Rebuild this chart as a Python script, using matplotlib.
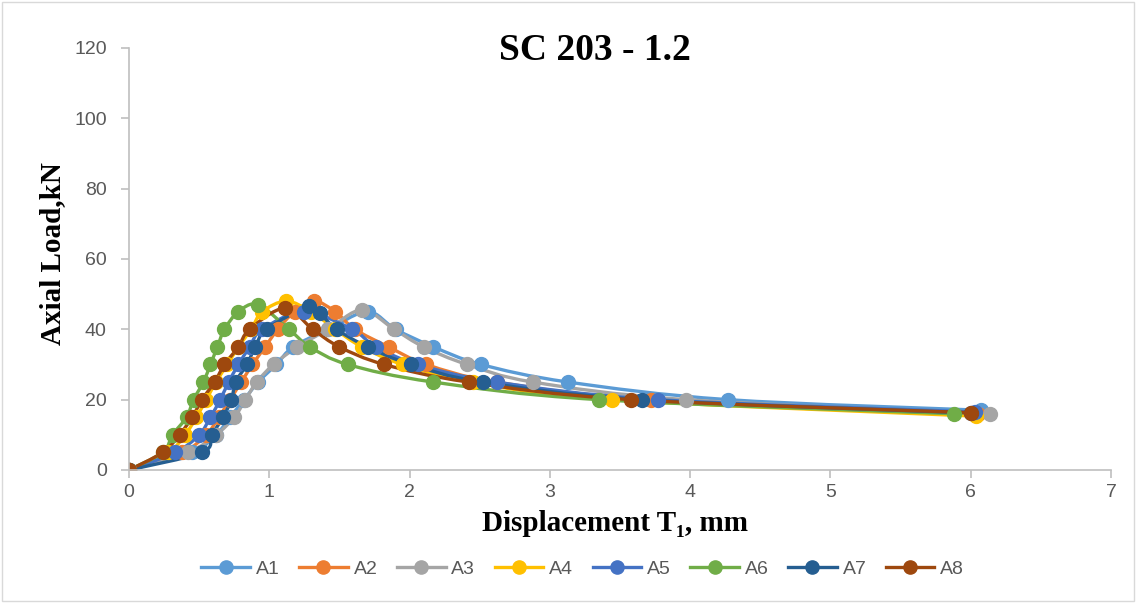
import matplotlib
matplotlib.use("Agg")
import matplotlib.pyplot as plt
import numpy as np
from matplotlib.path import Path
from matplotlib.patches import PathPatch, Rectangle
from matplotlib.lines import Line2D

# displacement (mm) and axial load (kN)
a1_x = [0, 0.45, 0.62, 0.72, 0.82, 0.92, 1.05, 1.17, 1.42, 1.70, 1.90, 2.17, 2.51, 3.13, 4.27, 6.07]
a1_y = [0, 5, 10, 15, 20, 25, 30, 35, 40, 45, 40, 35, 30, 25, 20, 17]
a2_x = [0, 0.38, 0.55, 0.64, 0.72, 0.80, 0.88, 0.97, 1.06, 1.18, 1.32, 1.47, 1.61, 1.85, 2.12, 2.62, 3.72, 6.05]
a2_y = [0, 5, 10, 15, 20, 25, 30, 35, 40, 45, 48, 45, 40, 35, 30, 25, 20, 16]
a3_x = [0, 0.42, 0.62, 0.75, 0.83, 0.91, 1.03, 1.20, 1.42, 1.66, 1.89, 2.10, 2.41, 2.88, 3.97, 6.14]
a3_y = [0, 5, 10, 15, 20, 25, 30, 35, 40, 45.5, 40, 35, 30, 25, 20, 16]
a4_x = [0, 0.28, 0.40, 0.48, 0.55, 0.62, 0.70, 0.78, 0.87, 0.95, 1.12, 1.30, 1.47, 1.66, 1.95, 2.45, 3.44, 6.04]
a4_y = [0, 5, 10, 15, 20, 25, 30, 35, 40, 45, 48, 45, 40, 35, 30, 25, 20, 15.3]
a5_x = [0, 0.33, 0.50, 0.58, 0.65, 0.71, 0.78, 0.86, 0.95, 1.25, 1.59, 1.76, 2.06, 2.62, 3.77, 6.03]
a5_y = [0, 5, 10, 15, 20, 25, 30, 35, 40, 45, 40, 35, 30, 25, 20, 16.5]
a6_x = [0, 0.24, 0.31, 0.41, 0.46, 0.53, 0.58, 0.63, 0.68, 0.78, 0.92, 1.14, 1.29, 1.56, 2.17, 3.35, 5.88]
a6_y = [0, 5, 10, 15, 20, 25, 30, 35, 40, 45, 47, 40, 35, 30, 25, 20, 16]
a7_x = [0, 0.52, 0.59, 0.67, 0.73, 0.76, 0.84, 0.90, 0.98, 1.28, 1.36, 1.48, 1.70, 2.01, 2.52, 3.66, 6.00]
a7_y = [0, 5, 10, 15, 20, 25, 30, 35, 40, 46.5, 44.5, 40, 35, 30, 25, 20, 16.2]
a8_x = [0, 0.24, 0.36, 0.45, 0.52, 0.61, 0.68, 0.78, 0.86, 1.11, 1.31, 1.50, 1.82, 2.42, 3.58, 6.00]
a8_y = [0, 5, 10, 15, 20, 25, 30, 35, 40, 46, 40, 35, 30, 25, 20, 16.3]

names = ["A1", "A2", "A3", "A4", "A5", "A6", "A7", "A8"]
xs = [a1_x, a2_x, a3_x, a4_x, a5_x, a6_x, a7_x, a8_x]
ys = [a1_y, a2_y, a3_y, a4_y, a5_y, a6_y, a7_y, a8_y]
colors = ["#5B9BD5", "#ED7D31", "#A5A5A5", "#FFC000",
          "#4472C4", "#70AD47", "#255E91", "#9E480E"]


def smooth_path(x, y):
    # Excel-style smoothed line: Catmull-Rom segments as cubic Beziers
    p = np.column_stack([x, y]).astype(float)
    n = len(p)
    verts = [p[0]]
    codes = [Path.MOVETO]
    for i in range(n - 1):
        p0 = p[i - 1] if i > 0 else p[i]
        p3 = p[i + 2] if i + 2 < n else p[i + 1]
        c1 = p[i] + (p[i + 1] - p0) / 6.0
        c2 = p[i + 1] - (p3 - p[i]) / 6.0
        verts += [c1, c2, p[i + 1]]
        codes += [Path.CURVE4] * 3
    return Path(verts, codes)


fig = plt.figure(figsize=(11.36, 6.03), dpi=100)
ax = fig.add_axes([0.1136, 0.2206, 0.8644, 0.6998])

handles = []
for name, x, y, c in zip(names, xs, ys, colors):
    ax.add_patch(PathPatch(smooth_path(x, y), facecolor="none", edgecolor=c,
                           linewidth=2.4, capstyle="round", joinstyle="round"))
    ax.plot(x, y, linestyle="none", marker="o", markersize=10, color=c)
    handles.append(Line2D([0], [0], color=c, linewidth=2.4, marker="o",
                          markersize=9.5, label=name))

ax.set_xlim(0, 7)
ax.set_ylim(0, 120)
ax.set_xticks(range(0, 8))
ax.set_yticks(range(0, 121, 20))

for s in ["top", "right"]:
    ax.spines[s].set_visible(False)
for s in ["left", "bottom"]:
    ax.spines[s].set_color("#BFBFBF")
    ax.spines[s].set_linewidth(1.2)
ax.tick_params(axis="both", colors="#BFBFBF", labelcolor="#595959",
               labelsize=14, length=6, width=1.2, direction="out")
ax.tick_params(axis="y", pad=10)
ax.tick_params(axis="x", pad=4)
for lab in ax.get_xticklabels() + ax.get_yticklabels():
    lab.set_family("Liberation Sans")

serif = ["Liberation Serif", "DejaVu Serif"]
fig.text(0.524, 0.917, "SC 203 - 1.2", ha="center", va="center",
         fontsize=27, fontweight="bold", family=serif)
fig.text(0.541, 0.132, "Displacement T\u2081, mm", ha="center", va="center",
         fontsize=21, fontweight="bold", family=serif)
fig.text(0.046, 0.58, "Axial Load,kN", ha="center", va="center", rotation=90,
         fontsize=21, fontweight="bold", family=serif)

leg = fig.legend(handles=handles, loc="center", bbox_to_anchor=(0.513, 0.056),
                 ncol=8, frameon=False, handlelength=2.5,
                 columnspacing=1.0, handletextpad=0.3,
                 prop={"family": "Liberation Sans", "size": 14})
for t in leg.get_texts():
    t.set_color("#595959")

fig.patches.append(Rectangle((0.002, 0.003), 0.996, 0.994, transform=fig.transFigure,
                             fill=False, edgecolor="#D9D9D9", linewidth=1))

fig.savefig("out.png", dpi=100)
